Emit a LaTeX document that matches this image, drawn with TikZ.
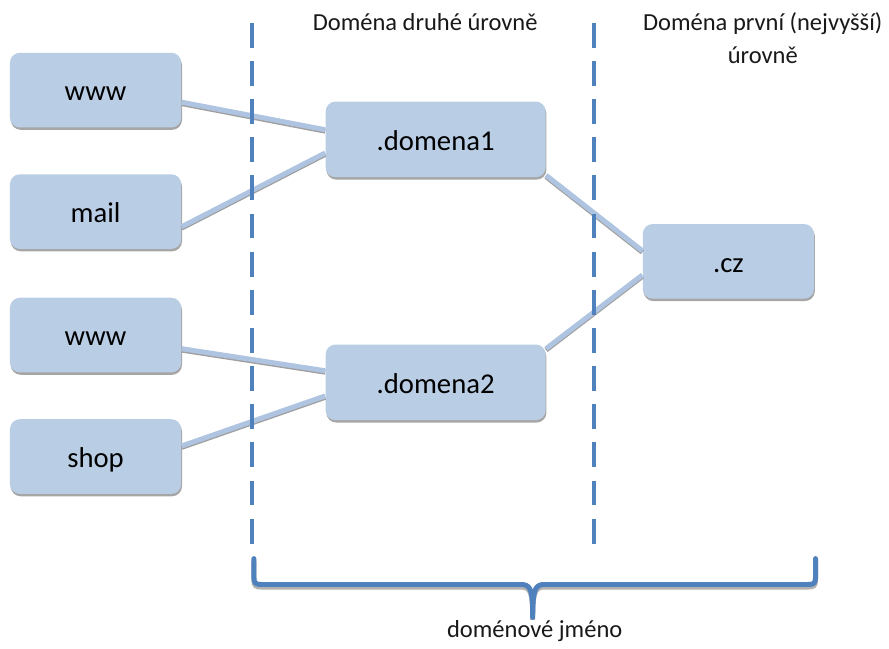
\documentclass[tikz,border=0pt]{standalone}
\usepackage{fontspec}
\setmainfont{Carlito}
\usetikzlibrary{shadows,positioning}
\definecolor{boxblue}{HTML}{B9CDE5}
\definecolor{linkblue}{HTML}{AEC4E0}
\definecolor{darkblue}{HTML}{4F81BD}
\tikzset{
	uzel/.style={rectangle, rounded corners=5pt, fill=boxblue, inner sep=0pt, minimum width=86pt, minimum height=37.5pt, text height=10.7pt, text depth=0pt, font=\fontsize{14.4}{17}\selectfont, drop shadow={shadow xshift=0.4pt, shadow yshift=-1.2pt, opacity=0.35, fill=black}},
	uzelsiroky/.style={uzel, minimum width=110.5pt, minimum height=38pt},
	spoj/.style={linkblue, line width=2.5pt, preaction={draw=gray!75, line width=2.5pt, transform canvas={yshift=-0.7pt}}},
	hranice/.style={darkblue, line width=2pt, dash pattern=on 12.5pt off 6.65pt},
	popis/.style={font=\fontsize{12.3}{16.5}\selectfont, align=center, text=black!90},
	klamra/.style={darkblue, line width=2.5pt, line join=round, line cap=round, preaction={draw=gray!60, line width=2.5pt, transform canvas={yshift=-1.3pt}}}
}
\begin{document}
\begin{tikzpicture}[x=0.5pt, y=-0.5pt]
	\fill[white] (0,0) rectangle (889,646);
	\foreach \jm/\napis/\y in {www1/www/90.5, mail/mail/212.5, www2/www/336.5, shop/shop/458.5}
		\node[uzel] (\jm) at (96,\y) {\napis};
	\node[uzelsiroky] (domena1) at (437.5,140) {.domena1};
	\node[uzelsiroky] (domena2) at (437.5,384) {.domena2};
	\node[uzel] (cz) at (731.5,262.5) {.cz};
	\draw[spoj] (www1.-8) -- (domena1.175);
	\draw[spoj] (mail.-10) -- (domena1.-173);
	\draw[spoj] (www2.-9) -- (domena2.174);
	\draw[spoj] (shop.7) -- (domena2.-173);
	\draw[spoj] (domena1.-18) -- (cz.173);
	\draw[spoj] (domena2.17) -- (cz.-171);
	\foreach \x in {253,597}
		\draw[hranice] (\x,23) -- (\x,546);
	\node[popis] (druha) at (427,22) {Doména druhé úrovně};
	\node[popis] (prvni) at (766,38.5) {Doména první (nejvyšší)\\úrovně};
	\draw[klamra] (255,561) -- (255,580) .. controls (255,586) and (257,587) .. (263,587) -- (525,587)
		.. controls (533,588) and (535,593) .. (535,620) .. controls (535,593) and (537,588) .. (545,587)
		-- (811,587) .. controls (817,587) and (819,586) .. (819,580) -- (819,561);
	\node[popis] (jmeno) at (537,634) {doménové jméno};
\end{tikzpicture}
\end{document}
